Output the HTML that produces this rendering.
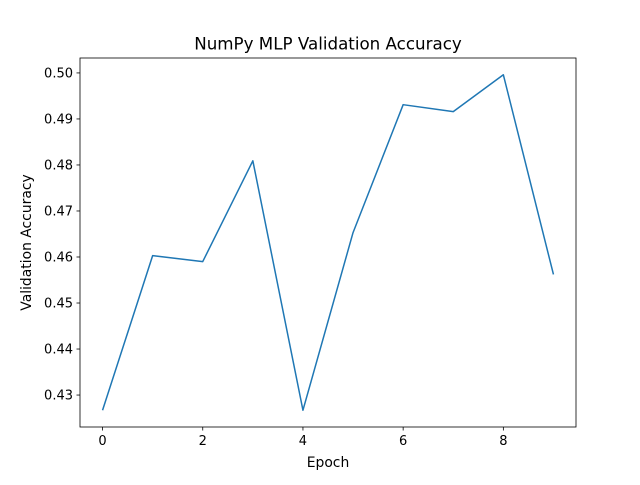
<!DOCTYPE html>
<html><head><meta charset="utf-8"><style>
body{margin:0;background:#fff}
svg text{font-family:"DejaVu Sans","Liberation Sans",sans-serif;fill:#000}
</style></head><body>
<svg id="chart" width="640" height="480" xmlns="http://www.w3.org/2000/svg">
<rect width="640" height="480" fill="#fff"/>
<text x="328" y="49.5" font-size="16.7" text-anchor="middle">NumPy MLP Validation Accuracy</text>
<text x="328" y="467" font-size="13.9" text-anchor="middle">Epoch</text>
<text x="31" y="242.5" font-size="13.9" text-anchor="middle" transform="rotate(-90 31 242.5)">Validation Accuracy</text>
<g id="ticks"></g>
<polyline id="line" fill="none" stroke="#1f77b4" stroke-width="1.5" stroke-linejoin="round"/>
<rect x="80" y="58" width="496" height="369" fill="none" stroke="#000" stroke-width="0.8"/>
</svg>
<script>
const epochs=[0,1,2,3,4,5,6,7,8,9];
const accuracy=[0.4267,0.4603,0.4590,0.4809,0.4267,0.4653,0.4931,0.4916,0.4996,0.4562];
const xTicks=[0,2,4,6,8];
const yTicks=[0.43,0.44,0.45,0.46,0.47,0.48,0.49,0.50];
const L=80,R=576,T=58,B=427;
const xmin=-0.45,xmax=9.45;
const dmin=Math.min(...accuracy),dmax=Math.max(...accuracy),m=(dmax-dmin)*0.05;
const ymin=dmin-m,ymax=dmax+m;
const X=v=>L+(v-xmin)/(xmax-xmin)*(R-L);
const Y=v=>B-(v-ymin)/(ymax-ymin)*(B-T);
const NS='http://www.w3.org/2000/svg';
const g=document.getElementById('ticks');
function el(t,a){const e=document.createElementNS(NS,t);for(const k in a)e.setAttribute(k,a[k]);return e;}
xTicks.forEach(v=>{const x=X(v);
const l=el('line',{x1:x,x2:x,y1:B,y2:B+3.5,stroke:'#000','stroke-width':0.8});


g.appendChild(l);
const t=el('text',{x:x,y:B+18,'font-size':13,'text-anchor':'middle'});t.textContent=v;


g.appendChild(t);});
yTicks.forEach(v=>{const y=Y(v);
const l=el('line',{x1:L-3.5,x2:L,y1:y,y2:y,stroke:'#000','stroke-width':0.8});


g.appendChild(l);
const t=el('text',{x:L-7,y:y+4.7,'font-size':13,'text-anchor':'end'});t.textContent=v.toFixed(2);


g.appendChild(t);});
document.getElementById('line').setAttribute('points',epochs.map((e,i)=>X(e)+','+Y(accuracy[i])).join(' '));
</script>
</body></html>
